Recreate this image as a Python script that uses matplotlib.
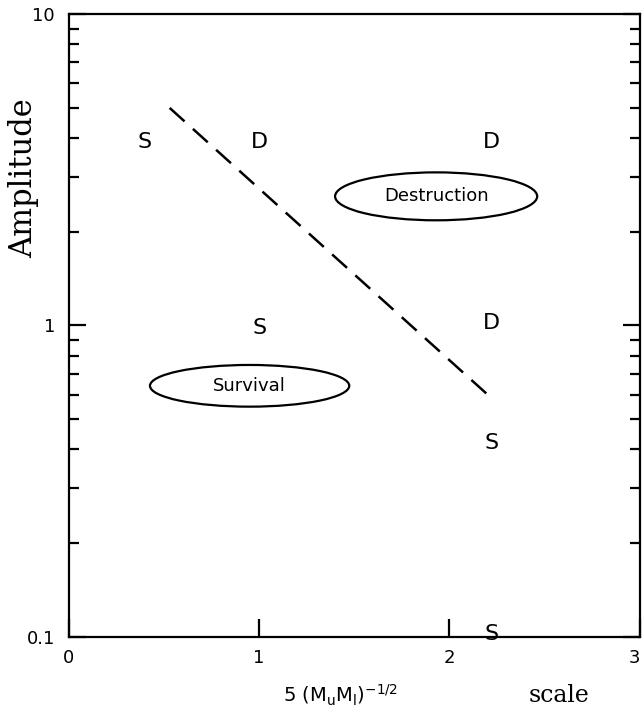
import matplotlib.pyplot as plt
import numpy as np
from matplotlib.patches import Ellipse
from matplotlib.ticker import LogLocator, NullFormatter, FixedLocator

# outcome markers: S = survival, D = destruction
pt_x = [0.40, 1.0, 2.22, 1.0, 2.22, 2.22, 2.22]
pt_y = [3.9, 3.9, 3.9, 0.98, 1.02, 0.42, 0.102]
pt_lab = ["S", "D", "D", "S", "D", "S", "S"]

# dividing line
line_x = np.array([0.53, 2.2])
line_y = np.array([5.0, 0.6])

# region labels (center x, center y)
regions = ["Destruction", "Survival"]
reg_x = [1.93, 0.95]
reg_y = [2.6, 0.64]

fig = plt.figure(figsize=(6.43, 7.13), dpi=100)
ax = fig.add_axes([0.107, 0.107, 0.888, 0.873])
ax.set_xlim(0, 3)
ax.set_yscale("log")
ax.set_ylim(0.1, 10)

for s in ax.spines.values():
    s.set_linewidth(1.6)

ax.xaxis.set_major_locator(FixedLocator([0, 1, 2, 3]))
ax.tick_params(axis="x", which="major", direction="in", length=13, width=1.6,
               top=False, labelsize=13, pad=9)
ax.tick_params(axis="y", which="major", direction="in", length=12, width=1.6,
               right=True, labelsize=13, pad=10)
ax.tick_params(axis="y", which="minor", direction="in", length=7, width=1.6,
               right=True)
ax.yaxis.set_major_locator(FixedLocator([0.1, 1, 10]))
ax.set_yticklabels(["0.1", "1", "10"])
ax.yaxis.set_minor_locator(LogLocator(base=10, subs=np.arange(2, 10)))
ax.yaxis.set_minor_formatter(NullFormatter())
fig.canvas.draw()
ax.get_xticklabels()[-1].set_horizontalalignment("right")

for x, y, t in zip(pt_x, pt_y, pt_lab):
    ax.text(x, y, t, ha="center", va="center", fontsize=16)

ax.plot(line_x, line_y, color="black", lw=1.8, dashes=(8, 4.5))

to_axes = ax.transData + ax.transAxes.inverted()
for name, x, y, w, h in zip(regions, reg_x, reg_y, [0.354, 0.349], [0.077, 0.067]):
    cx, cy = to_axes.transform((x, y))
    ax.add_patch(Ellipse((cx, cy), w, h, transform=ax.transAxes,
                         fill=False, lw=1.6, color="black"))
    ax.text(x, y, name, ha="center", va="center", fontsize=13)

fig.text(0.037, 0.75, "Amplitude", rotation=90, ha="center", va="center",
         family="DejaVu Serif", fontsize=22)
fig.text(0.53, 0.025, r"5 (M$_\mathregular{u}$M$_\mathregular{l}$)$^{-1/2}$",
         ha="center", va="center", fontsize=14)
fig.text(0.87, 0.025, "scale", ha="center", va="center",
         family="DejaVu Serif", fontsize=17)

fig.savefig("out.png", dpi=100)
